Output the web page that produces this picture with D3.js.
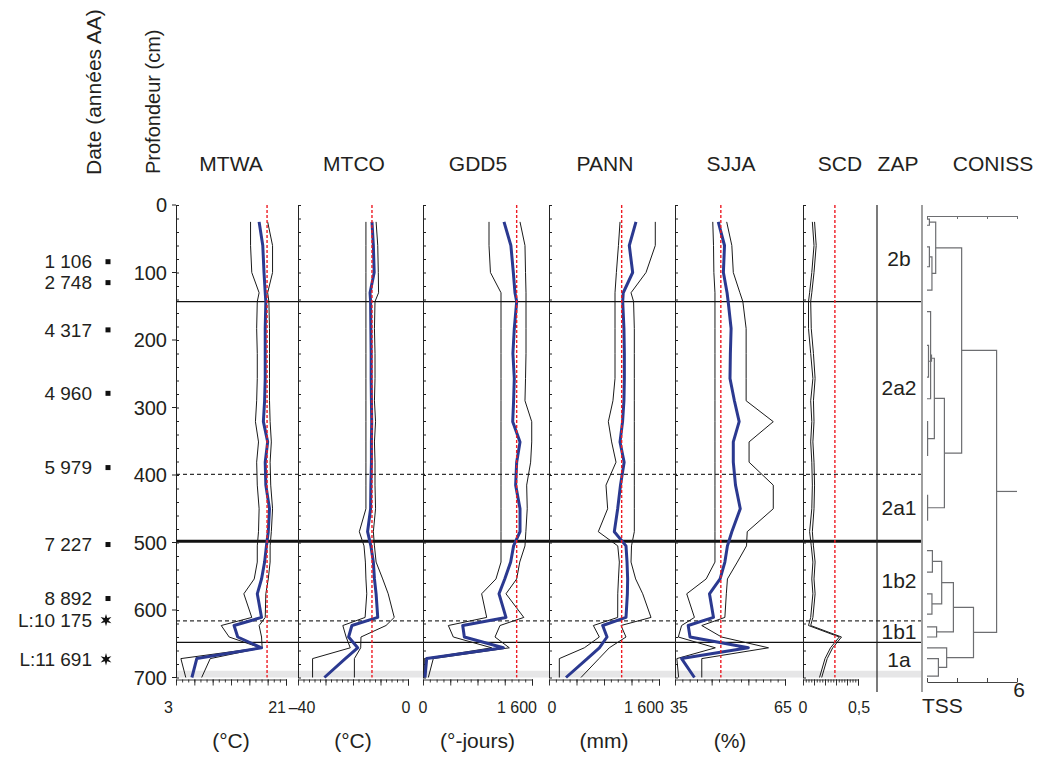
<!DOCTYPE html>
<html><head><meta charset="utf-8">
<script src="https://cdn.jsdelivr.net/npm/d3@7"></script>
<style>
body{margin:0;background:#fff;}
svg text{font-family:Arial,"Liberation Sans",Helvetica,sans-serif;fill:#231f20;}
</style></head><body>
<svg id="chart" width="1039" height="760"></svg>
<script>
// ---------------- DATA ----------------
const depths = [25,60,100,130,143,183,220,257,290,321,351,381,415,450,484,505,529,554,576,611,623,640,656,672,700];

const mtwaMean = [16.6,17.2,17.4,17.6,17.7,17.6,17.6,17.6,17.5,17.3,18.0,17.6,17.7,18.3,18.1,17.8,17.5,17.0,16.3,17.0,12.5,13.1,17.0,6.4,5.6];
const mtwaLow  = [15.2,15.2,15.4,16.6,16.3,16.2,16.3,16.3,16.2,16.0,16.5,16.2,16.3,16.6,16.5,16.3,16.3,15.8,14.1,15.4,10.4,11.7,16.8,3.8,4.6];
const mtwaHigh = [18.0,18.8,18.8,18.0,18.2,18.3,18.3,18.3,18.3,18.4,18.6,18.4,18.5,18.8,18.6,18.4,18.4,18.1,17.7,17.6,16.6,17.0,17.1,8.6,7.2];

const mtcoMean = [-13.1,-12.6,-12.3,-13.8,-13.6,-13.5,-13.4,-13.4,-13.3,-13.2,-13.3,-13.3,-13.5,-13.6,-14.7,-13.5,-12.6,-12.2,-11.6,-11.0,-20.4,-21.6,-18.3,-22.8,-30.4];
const mtcoLow  = [-15.3,-15.3,-15.3,-15.3,-15.3,-15.3,-15.3,-15.3,-15.3,-15.3,-15.3,-15.3,-15.3,-15.3,-17.7,-16.0,-15.5,-15.3,-15.0,-15.6,-23.7,-22.5,-21.0,-34.7,-34.7];
const mtcoHigh = [-11.6,-11.0,-10.8,-10.7,-12.0,-12.2,-12.0,-12.0,-12.2,-11.8,-12.2,-12.0,-12.0,-11.8,-12.6,-12.2,-11.6,-9.2,-7.2,-5.0,-8.0,-17.1,-17.2,-19.5,-19.5];

const gdd5Mean = [1189,1290,1326,1350,1375,1340,1320,1340,1330,1317,1424,1375,1360,1424,1424,1330,1287,1200,1116,1218,583,607,1179,54,29];
const gdd5Low  = [969,969,990,1145,1145,1145,1145,1145,1145,1145,1145,1145,1145,1145,1145,1145,1145,1071,861,935,372,445,1008,19,19];
const gdd5High = [1424,1497,1505,1512,1512,1512,1512,1505,1497,1596,1596,1580,1522,1530,1510,1497,1420,1375,1218,1480,1130,1057,1267,151,78];

const pannMean = [1265,1168,1217,1080,1072,1090,1096,1096,1090,1070,1033,1093,1040,999,950,1120,1135,1144,1140,1120,781,844,732,557,247];
const pannLow  = [1033,1010,980,960,960,960,960,960,930,863,911,975,829,853,717,1000,1023,1010,1000,999,645,732,514,150,150];
const pannHigh = [1546,1546,1411,1193,1230,1241,1241,1241,1241,1241,1241,1241,1241,1241,1241,1200,1193,1260,1363,1484,1047,1120,877,727,465];

const sjjaMean = [46.8,48.5,48.2,49.2,49.5,50.3,50.1,50.0,51.2,52.5,50.9,50.9,51.5,52.8,50.5,49.3,48.6,47.3,44.4,45.5,38.6,39.1,55.0,36.8,40.3];
const sjjaLow  = [45.3,45.5,45.6,45.9,45.9,45.9,45.9,45.9,45.9,45.9,45.9,45.9,45.9,45.9,45.9,45.9,45.9,43.5,38.2,40.3,36.8,35.9,46.0,35.5,36.0];
const sjjaHigh = [49.1,50.5,50.9,52.7,53.5,54.4,54.4,54.4,54.4,61.8,55.2,55.2,61.8,61.8,54.7,54.5,52.0,49.3,49.0,48.6,42.3,47.7,60.5,42.3,42.3];

const scdLow  = [0.085,0.10,0.08,0.06,0.05,0.05,0.07,0.09,0.07,0.08,0.07,0.08,0.085,0.08,0.06,0.075,0.09,0.08,0.09,0.07,0.05,0.33,0.25,0.20,0.15];
const scdHigh = [0.105,0.12,0.10,0.08,0.07,0.075,0.095,0.11,0.095,0.10,0.09,0.10,0.105,0.10,0.085,0.095,0.11,0.10,0.11,0.09,0.07,0.35,0.27,0.22,0.17];

const panelNames   = ["MTWA","MTCO","GDD5","PANN","SJJA","SCD"];
const panelDomains = [[3,21],[-40,0],[0,1600],[0,1600],[35,65],[0,0.5]];
const panelUnits   = ["(°C)","(°C)","(°-jours)","(mm)","(%)",""];
const minLabels    = ["3","–40","0","0","35","0"];
const maxLabels    = ["21","0","1 600","1 600","65","0,5"];
const modernValues = [17.9,-13.1,1375,1057,47.5,0.29];
const meanSeries   = [mtwaMean,mtcoMean,gdd5Mean,pannMean,sjjaMean,null];
const lowSeries    = [mtwaLow,mtcoLow,gdd5Low,pannLow,sjjaLow,scdLow];
const highSeries   = [mtwaHigh,mtcoHigh,gdd5High,pannHigh,sjjaHigh,scdHigh];

const depthTicks = [0,100,200,300,400,500,600,700];
const dateLabels = ["1 106","2 748","4 317","4 960","5 979","7 227","8 892","L:10 175","L:11 691"];
const dateDepths = [84,115,185,279,389,503,583,615,673];
const dateKinds  = ["sq","sq","sq","sq","sq","sq","sq","star","star"];

const zoneBounds = [143,399,498,616,648];
const zoneKinds  = ["solid","dashed","thick","dashed","solid"];
const zapLabels  = ["2b","2a2","2a1","1b2","1b1","1a"];
const zapDepths  = [80,271,448,557,632,674];

const connLeafDepths = [21,30,62,91.5,126,158,287,208,255,321,371,430,467,512,544,576,606,625,640,656,672,698];
const connMerges = [
  [0,1,0.16],[2,3,0.16],[23,4,0.33],[22,24,0.58],
  [5,6,0.24],[7,8,0.10],[26,27,0.30],[9,10,0.04],[28,29,0.49],[11,12,0.04],[30,31,1.16],[25,32,2.31],
  [13,14,0.36],[15,16,0.33],[34,35,0.98],[17,18,0.64],[36,37,1.76],[20,21,0.76],[19,39,1.31],[38,40,3.10],
  [33,41,4.64]
];
const tssTicks = [0,2,4,6];

// ---------------- LAYOUT ----------------
const svg = d3.select("#chart");
const y = d3.scaleLinear().domain([0,700]).range([205,677.5]);
const panelX = [[176,286],[298,408],[423,532],[549,659],[675,785],[803,858]];
const minorStep = [1,2,100,100,2,0.025];
const majorStep = [3,10,400,400,10,0.1];
const minPos = [["end",-3],["middle",4],["middle",0],["middle",3],["middle",4],["middle",0]];
const maxPos = [["end",0],["middle",-2],["end",5],["end",5],["middle",-2],["middle",1]];
const axisY = 679.5;
const blue = "#2b3990", red = "#ed1c24";

// grey band at base
svg.append("rect").attr("x",176).attr("y",y(690)).attr("width",921-176).attr("height",y(700)-y(690)).attr("fill","#e6e6e7");

// zone boundary lines
zoneBounds.forEach((d,i)=>{
  const k = zoneKinds[i];
  svg.append("line").attr("x1",176).attr("x2",921).attr("y1",y(d)).attr("y2",y(d))
    .attr("stroke", k==="dashed" ? "#333" : "#111")
    .attr("stroke-width", k==="thick" ? 3 : (k==="dashed"?1.3:1.2))
    .attr("stroke-dasharray", k==="dashed" ? "4,3" : null);
});

panelNames.forEach((name,i)=>{
  const [x0,x1] = panelX[i];
  const x = d3.scaleLinear().domain(panelDomains[i]).range([x0,x1]);
  const g = svg.append("g");
  const vax = g.append("g").attr("transform",`translate(${x0},0)`)
    .call(d3.axisRight(y).tickValues(d3.range(0,701,20)).tickSize(3).tickSizeOuter(0).tickFormat(""));
  vax.selectAll("path,line").attr("stroke","#222").attr("stroke-width",1);
  const [d0,d1] = panelDomains[i];
  const minor = d3.range(d0, d1 + minorStep[i]/2, minorStep[i]);
  const major = d3.range(d0, d1 + majorStep[i]/2, majorStep[i]).concat([d1]);
  const bax = g.append("g").attr("transform",`translate(0,${axisY})`)
    .call(d3.axisBottom(x).tickValues(minor).tickSize(3).tickSizeOuter(0).tickFormat(""));
  bax.selectAll("path,line").attr("stroke","#222").attr("stroke-width",0.9);
  const bax2 = g.append("g").attr("transform",`translate(0,${axisY})`)
    .call(d3.axisBottom(x).tickValues(major).tickSize(6).tickSizeOuter(0).tickFormat(""));
  bax2.select("path").remove();
  bax2.selectAll("line").attr("stroke","#222").attr("stroke-width",0.9);
  g.append("text").attr("x",x(d0)+minPos[i][1]).attr("y",713).attr("text-anchor",minPos[i][0])
    .attr("font-size",16).text(minLabels[i]);
  g.append("text").attr("x",x(d1)+maxPos[i][1]).attr("y",713).attr("text-anchor",maxPos[i][0])
    .attr("font-size",16).text(maxLabels[i]);
  if (panelUnits[i]) g.append("text").attr("x",(x0+x1)/2).attr("y",748).attr("text-anchor","middle")
    .attr("font-size",21).text(panelUnits[i]);
  const line = vals => d3.line().x((d,j)=>x(vals[j])).y((d,j)=>y(depths[j]))(depths);
  [lowSeries[i],highSeries[i]].forEach(s=>{
    g.append("path").attr("d",line(s)).attr("fill","none").attr("stroke","#1a1a1a").attr("stroke-width",1);
  });
  if (meanSeries[i]) g.append("path").attr("d",line(meanSeries[i])).attr("fill","none")
    .attr("stroke",blue).attr("stroke-width",3).attr("stroke-linejoin","round");
  g.append("line").attr("x1",x(modernValues[i])).attr("x2",x(modernValues[i]))
    .attr("y1",y(0)).attr("y2",y(700)).attr("stroke",red).attr("stroke-width",1.4).attr("stroke-dasharray","3,2");
});

// depth axis extra ticks (left side) and labels
depthTicks.forEach(d=>{
  svg.append("line").attr("x1",172).attr("x2",176).attr("y1",y(d)).attr("y2",y(d)).attr("stroke","#222");
  svg.append("text").attr("x",167).attr("y",y(d)).attr("dy","0.35em").attr("text-anchor","end")
    .attr("font-size",20).text(d);
});

// titles
const titleX = [231,354,478,605,731,840,898,993];
panelNames.concat(["ZAP","CONISS"]).forEach((t,i)=>{
  svg.append("text").attr("x",titleX[i]).attr("y",171).attr("text-anchor","middle").attr("font-size",21).text(t);
});
svg.append("text").attr("transform","translate(101,175) rotate(-90)").attr("font-size",21).text("Date (années AA)");
svg.append("text").attr("transform","translate(160,174) rotate(-90)").attr("font-size",20).text("Profondeur (cm)");

// dates
const starPath = (()=>{ const p=[]; for(let k=0;k<12;k++){const r=k%2?2.4:6.2, a=Math.PI/6*k - Math.PI/2; p.push([r*Math.cos(a), r*Math.sin(a)]);} return "M"+p.map(q=>q.join(",")).join("L")+"Z"; })();
dateLabels.forEach((t,i)=>{
  const yy = y(dateDepths[i]);
  svg.append("text").attr("x",92).attr("y",yy).attr("dy","0.35em").attr("text-anchor","end").attr("font-size",19).text(t);
  if (dateKinds[i]==="sq") svg.append("rect").attr("x",105.5).attr("y",yy-2.5).attr("width",5).attr("height",5).attr("fill","#111");
  else svg.append("path").attr("d",starPath).attr("transform",`translate(106,${yy})`).attr("fill","#111");
});

// ZAP column
svg.append("line").attr("x1",877).attr("x2",877).attr("y1",205).attr("y2",692).attr("stroke","#222").attr("stroke-width",1.2);
zapLabels.forEach((t,i)=>{
  svg.append("text").attr("x",899).attr("y",y(zapDepths[i])).attr("dy","0.35em").attr("text-anchor","middle").attr("font-size",21).text(t);
});

// CONISS
svg.append("line").attr("x1",922).attr("x2",922).attr("y1",205).attr("y2",692).attr("stroke","#888").attr("stroke-width",1.6);
const xc = d3.scaleLinear().domain([0,6]).range([927,1017]);
const nodes = connLeafDepths.map(d=>({y:y(d),h:0}));
connMerges.forEach(([a,b,h])=>nodes.push({y:(nodes[a].y+nodes[b].y)/2,h:h}));
const dg = svg.append("g").attr("stroke","#6d6e71").attr("stroke-width",1.2).attr("fill","none");
connMerges.forEach(([a,b,h])=>{
  const p = d3.path();
  p.moveTo(xc(nodes[a].h),nodes[a].y); p.lineTo(xc(h),nodes[a].y); p.lineTo(xc(h),nodes[b].y); p.lineTo(xc(nodes[b].h),nodes[b].y);
  dg.append("path").attr("d",p.toString());
});
const root = nodes[nodes.length-1];
dg.append("line").attr("x1",xc(root.h)).attr("x2",xc(6)).attr("y1",root.y).attr("y2",root.y);
const topAx = svg.append("g").attr("transform","translate(0,216)")
  .call(d3.axisBottom(xc).tickValues(tssTicks).tickSize(3).tickSizeOuter(0).tickFormat(""));
topAx.selectAll("path,line").attr("stroke","#6d6e71");
const botAx = svg.append("g").attr("transform","translate(0,682)")
  .call(d3.axisTop(xc).tickValues(tssTicks).tickSize(4).tickSizeOuter(0).tickFormat(""));
botAx.selectAll("path,line").attr("stroke","#444");
svg.append("text").attr("x",1025).attr("y",697).attr("text-anchor","end").attr("font-size",21).text("6");
svg.append("text").attr("x",922).attr("y",713).attr("font-size",21).text("TSS");
</script>
</body></html>
